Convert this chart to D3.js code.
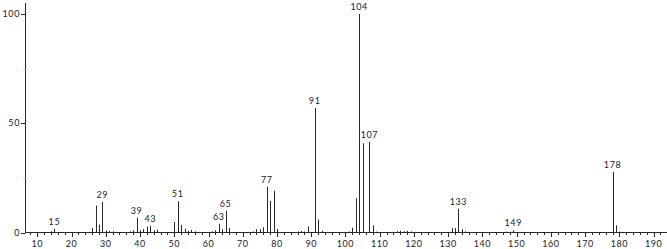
<!DOCTYPE html>
<html><head><meta charset="utf-8">
<script src="https://cdn.jsdelivr.net/npm/d3@7"></script>
<style>
html,body{margin:0;padding:0;background:#fff;}
svg text{font-family:Lato,"DejaVu Sans",sans-serif;fill:#222;}
</style></head>
<body><svg id="c" width="667" height="249"></svg>
<script>
const mz = [14,15,26,27,28,29,30,31,32,37,38,39,40,41,42,43,44,45,50,51,52,53,54,55,56,61,62,63,64,65,66,73,74,75,76,77,78,79,80,86,87,88,89,91,92,93,101,102,103,104,105,107,108,109,115,116,117,118,119,131,132,133,134,135,147,149,178,179,180];
const intensity = [0.5,1.6,2,12.3,3.6,14,1,0.7,0.5,0.5,1,6.8,1,1.5,2.7,3.1,1,1.3,4.8,14.3,3.4,1.8,0.8,1.2,0.5,0.5,1,4,1.5,10,2,0.5,1.5,1.5,2.4,21,14.4,19.1,1.6,0.4,0.7,0.4,2.8,57,5.9,0.8,0.5,2.2,15.7,100,40.8,41.6,3.3,0.4,0.6,0.8,0.6,0.8,0.5,2,2,10.9,1.5,0.5,0.4,1,27.7,3.3,0.4];
const labeledPeaks = [15,29,39,43,51,63,65,77,91,104,107,133,149,178];
const xTickLabels = [10,20,30,40,50,60,70,80,90,100,110,120,130,140,150,160,170,180,190];
const yTickLabels = [0,50,100];

const svg = d3.select("#c");
const x = d3.scaleLinear().domain([10,180]).range([37.3,619.4]);
const xMin = x.invert(25), xMax = x.invert(667);
const y = d3.scaleLinear().domain([0,100]).range([232.5,14]);
const col = "#2a2a2a";

// peaks
const peaks = mz.map((m,i)=>({m, v:intensity[i]}));
svg.append("g").selectAll("line").data(peaks).join("line")
  .attr("x1",d=>Math.round(x(d.m))+0.5).attr("x2",d=>Math.round(x(d.m))+0.5)
  .attr("y1",y(0)).attr("y2",d=>y(d.v))
  .attr("stroke",col).attr("stroke-width",1);

// x axis
const xg = svg.append("g");
xg.append("line").attr("x1",25).attr("x2",667).attr("y1",232.5).attr("y2",232.5).attr("stroke",col);
const minor = d3.range(8,198,2).filter(v=>v%10!==0);
xg.selectAll("line.mi").data(minor).join("line").attr("class","mi")
  .attr("x1",d=>Math.round(x(d))+0.5).attr("x2",d=>Math.round(x(d))+0.5)
  .attr("y1",232.5).attr("y2",235).attr("stroke",col);
xg.selectAll("line.ma").data(xTickLabels).join("line").attr("class","ma")
  .attr("x1",d=>Math.round(x(d))+0.5).attr("x2",d=>Math.round(x(d))+0.5)
  .attr("y1",232.5).attr("y2",237).attr("stroke",col);
xg.selectAll("text").data(xTickLabels).join("text")
  .attr("x",d=>x(d)).attr("y",247).attr("text-anchor","middle")
  .attr("font-size","9px").attr("letter-spacing","0.6px").text(d=>d);

// y axis
const yg = svg.append("g");
yg.append("line").attr("x1",25.5).attr("x2",25.5).attr("y1",3).attr("y2",232.5).attr("stroke",col);
yg.selectAll("line.t").data(yTickLabels).join("line").attr("class","t")
  .attr("x1",21).attr("x2",25.5).attr("y1",d=>Math.round(y(d))+0.5).attr("y2",d=>Math.round(y(d))+0.5).attr("stroke",col);
yg.selectAll("line.m").data([25,75]).join("line").attr("class","m")
  .attr("x1",23).attr("x2",25.5).attr("y1",d=>Math.round(y(d))+0.5).attr("y2",d=>Math.round(y(d))+0.5).attr("stroke","#ccc");
yg.selectAll("text").data(yTickLabels).join("text")
  .attr("x",20).attr("y",d=>y(d)+3).attr("text-anchor","end")
  .attr("font-size","9px").attr("letter-spacing","0.6px").text(d=>d);

// peak labels
const lab = peaks.filter(p=>labeledPeaks.includes(p.m));
svg.append("g").selectAll("text").data(lab).join("text")
  .attr("x",d=>x(d.m)).attr("y",d=>y(d.v)-4).attr("text-anchor","middle")
  .attr("font-size","9px").attr("letter-spacing","0.6px").text(d=>d.m);
</script></body></html>
